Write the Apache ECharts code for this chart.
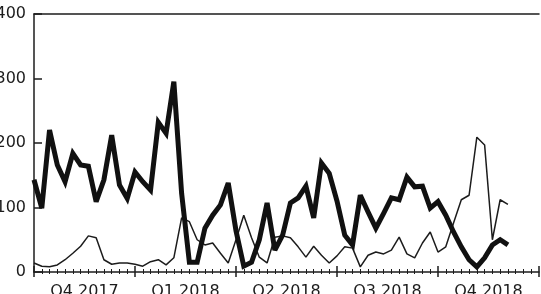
<!DOCTYPE html>
<html>
<head>
<meta charset="utf-8">
<script src="https://cdn.jsdelivr.net/npm/echarts@6/dist/echarts.min.js"></script>
<style>
  html, body { margin: 0; padding: 0; background: #fff; }
  #chart { width: 541px; height: 294px; }
</style>
</head>
<body>
<div id="chart"></div>
<script>
// weekly values, week 0 = start of Q4 2017
const quarters = ['Q4 2017', 'Q1 2018', 'Q2 2018', 'Q3 2018', 'Q4 2018']
const thickValues = [
  143, 99, 220, 166, 140, 184, 166, 164, 109, 143,
  212, 135, 114, 155, 140, 127, 232, 215, 295, 122,
  15, 15, 68, 88, 104, 138, 64, 9, 15, 50,
  107, 34, 57, 107, 115, 133, 84, 169, 153, 110,
  57, 42, 119, 93, 68, 91, 115, 112, 147, 132,
  133, 99, 109, 88, 62, 39, 19, 8, 22, 42,
  50, 42
]
const thinValues = [
  14, 9, 8, 11, 19, 29, 40, 56, 53, 19,
  12, 14, 14, 12, 9, 16, 19, 11, 22, 84,
  78, 50, 42, 45, 29, 14, 50, 88, 53, 23,
  14, 54, 56, 53, 39, 23, 40, 26, 14, 25,
  39, 37, 8, 26, 31, 28, 34, 54, 28, 22,
  45, 62, 31, 39, 76, 112, 119, 209, 197, 50,
  112, 105
]
const yTicks = [0, 100, 200, 300, 400]
const weeksShown = 65

const ink = '#1c1c1c'
const chart = echarts.init(document.getElementById('chart'))

const toPairs = arr => arr.map((v, i) => [i, v])

const option = {
  animation: false,
  backgroundColor: '#fff',
  grid: { left: 34, right: 2, top: 14, bottom: 22, outerBoundsMode: 'none', containLabel: false },
  xAxis: [
    {
      type: 'value',
      min: 0,
      max: weeksShown,
      interval: 13,
      position: 'bottom',
      axisLine: { lineStyle: { color: ink, width: 1.5 } },
      axisTick: { inside: true, length: 6, lineStyle: { color: ink, width: 1.5 } },
      minorTick: { show: true, splitNumber: 13, length: 3, lineStyle: { color: ink, width: 1 } },
      axisLabel: { show: false },
      splitLine: { show: false }
    },
    {
      type: 'category',
      data: quarters,
      position: 'bottom',
      boundaryGap: true,
      axisLine: { show: false },
      axisTick: { show: false },
      axisLabel: {
        margin: 12,
        fontSize: 16,
        fontFamily: 'DejaVu Sans',
        color: ink
      }
    },
    {
      type: 'value',
      min: 0,
      max: weeksShown,
      interval: 13,
      position: 'bottom',
      axisLine: { show: false },
      axisTick: { inside: false, length: 5, lineStyle: { color: ink, width: 1.5 } },
      minorTick: { show: true, splitNumber: 13, length: 2, lineStyle: { color: ink, width: 1 } },
      axisLabel: { show: false },
      splitLine: { show: false }
    },
    {
      type: 'value',
      min: 0,
      max: weeksShown,
      position: 'top',
      axisLine: { lineStyle: { color: ink, width: 1.5 } },
      axisTick: { show: false },
      axisLabel: { show: false },
      splitLine: { show: false }
    }
  ],
  yAxis: {
    type: 'value',
    min: yTicks[0],
    max: yTicks[yTicks.length - 1],
    interval: 100,
    axisLine: { show: true, lineStyle: { color: ink, width: 1.5 } },
    axisTick: { show: true, inside: true, length: 8, lineStyle: { color: ink, width: 1.5 } },
    axisLabel: {
      margin: 8,
      fontSize: 16,
      fontFamily: 'DejaVu Sans',
      color: ink
    },
    splitLine: { show: false }
  },
  series: [
    {
      name: 'thin',
      type: 'line',
      xAxisIndex: 0,
      showSymbol: false,
      lineStyle: { color: ink, width: 1.5 },
      data: toPairs(thinValues)
    },
    {
      name: 'thick',
      type: 'line',
      xAxisIndex: 0,
      showSymbol: false,
      lineStyle: { color: '#111', width: 5, join: 'miter', miterLimit: 3 },
      data: toPairs(thickValues)
    }
  ]
}

chart.setOption(option)
</script>
</body>
</html>
